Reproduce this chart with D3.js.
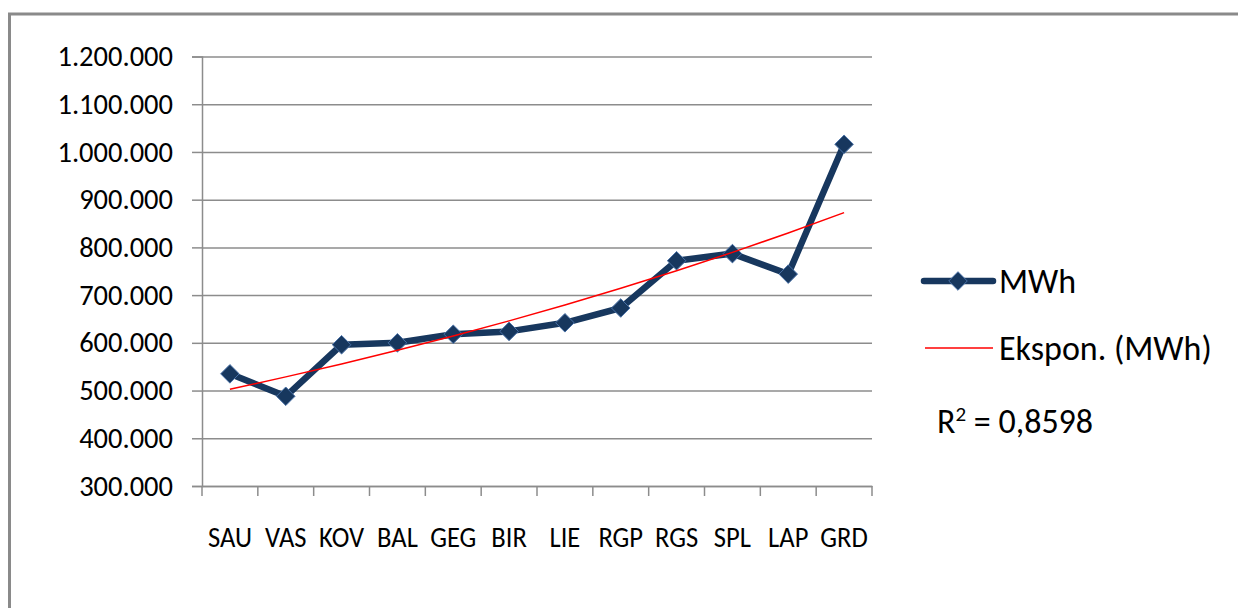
<!DOCTYPE html>
<html><head><meta charset="utf-8">
<script src="https://cdn.jsdelivr.net/npm/d3@7"></script>
<style>
body{margin:0;background:#fff;}
svg{display:block;}
text{font-family:Carlito,Calibri,Lato,sans-serif;fill:#000;}
</style></head>
<body>
<svg id="c" width="1238" height="608"></svg>
<script>
const categories = ["SAU","VAS","KOV","BAL","GEG","BIR","LIE","RGP","RGS","SPL","LAP","GRD"];
const mwh = [535000,488000,596000,600000,618000,624000,642000,673000,772000,787000,744000,1016000];
const yTicks = [300000,400000,500000,600000,700000,800000,900000,1000000,1100000,1200000];
const seriesName = "MWh";
const trendName = "Ekspon. (MWh)";
const r2Label = "0,8598";

(function(){
const svg = d3.select("#c");
svg.append("rect").attr("x",9.5).attr("y",14).attr("width",1300).attr("height",700)
  .attr("fill","#fff").attr("stroke","#8a8a8a").attr("stroke-width",3);

const pL=202, pR=872, pT=56.5, pB=486;
const x = d3.scaleBand().domain(categories).range([pL,pR]).padding(0);
const y = d3.scaleLinear().domain([300000,1200000]).range([pB,pT]);
const fmt = v => d3.format(",")(v).replace(/,/g,".");

const gy = svg.append("g").attr("transform",`translate(${pL},0)`)
  .call(d3.axisLeft(y).tickValues(yTicks).tickSize(-(pR-pL)).tickFormat(""));
gy.select(".domain").remove();
gy.selectAll(".tick line").attr("stroke","#8c8c8c").attr("stroke-width",1.5);
const ya = svg.append("g").attr("transform",`translate(${pL},0)`)
  .call(d3.axisLeft(y).tickValues(yTicks).tickSize(10).tickPadding(19).tickFormat(fmt));
ya.select(".domain").attr("stroke","#8c8c8c").attr("stroke-width",1.5);
ya.selectAll(".tick line").attr("stroke","#8c8c8c").attr("stroke-width",1.5);
ya.selectAll(".tick text").attr("font-size",28.5).attr("font-family",null).attr("fill","#000");

const xa = svg.append("g").attr("transform",`translate(0,${pB})`)
  .call(d3.axisBottom(x).tickSize(0).tickPadding(41));
xa.select(".domain").attr("stroke","#8c8c8c").attr("stroke-width",1.5);
xa.selectAll(".tick text").attr("font-size",28).attr("font-family",null).attr("fill","#000")
  .attr("transform","scale(0.95,1)");
const bounds = categories.map(c=>x(c)).concat([pR]);
xa.selectAll("line.bt").data(bounds).join("line").attr("class","bt")
  .attr("x1",d=>d).attr("x2",d=>d).attr("y1",0).attr("y2",10)
  .attr("stroke","#8c8c8c").attr("stroke-width",1.5);

const xs = categories.map((c,i)=>i+1);
const ly = mwh.map(v=>Math.log(v));
const mx=d3.mean(xs), my=d3.mean(ly);
const b = d3.sum(xs.map((v,i)=>(v-mx)*(ly[i]-my)))/d3.sum(xs.map(v=>(v-mx)*(v-mx)));
const a = my - b*mx;
const xc = c => x(c)+x.bandwidth()/2;
const trend = categories.map((c,i)=>({c, v:Math.exp(a+b*(i+1))}));

const line = d3.line().x(d=>xc(d.c)).y(d=>y(d.v));
const data = categories.map((c,i)=>({c,v:mwh[i]}));
svg.append("path").datum(data).attr("d",line).attr("fill","none")
  .attr("stroke","#17375e").attr("stroke-width",6.5).attr("stroke-linejoin","round");
const diamond = d3.symbol().type(d3.symbolDiamond2).size(220);
svg.selectAll("path.pt").data(data).join("path").attr("class","pt")
  .attr("d",diamond).attr("transform",d=>`translate(${xc(d.c)},${y(d.v)})`)
  .attr("fill","#17375e").attr("stroke","#4a72a8").attr("stroke-width",1);
svg.append("path").datum(trend).attr("d",line).attr("fill","none")
  .attr("stroke","#ff0000").attr("stroke-width",1.5);

const lg = svg.append("g");
lg.append("line").attr("x1",924).attr("x2",993).attr("y1",281).attr("y2",281)
  .attr("stroke","#17375e").attr("stroke-width",6.5).attr("stroke-linecap","round");
lg.append("path").attr("d",diamond).attr("transform","translate(958,281)")
  .attr("fill","#17375e").attr("stroke","#4a72a8").attr("stroke-width",1);
lg.append("text").attr("x",999).attr("y",281).attr("dy","0.35em").attr("font-size",34).text(seriesName);
lg.append("line").attr("x1",925).attr("x2",993).attr("y1",348).attr("y2",348)
  .attr("stroke","#ff0000").attr("stroke-width",1.5);
lg.append("text").attr("x",999).attr("y",348).attr("dy","0.35em").attr("font-size",34).text(trendName);
const rt = lg.append("text").attr("x",937).attr("y",433).attr("font-size",34);
rt.append("tspan").text("R");
rt.append("tspan").attr("font-size",21).attr("dy",-12).text("2");
rt.append("tspan").attr("dy",12).attr("font-size",34).text(" = "+r2Label);
})();
</script>
</body></html>
